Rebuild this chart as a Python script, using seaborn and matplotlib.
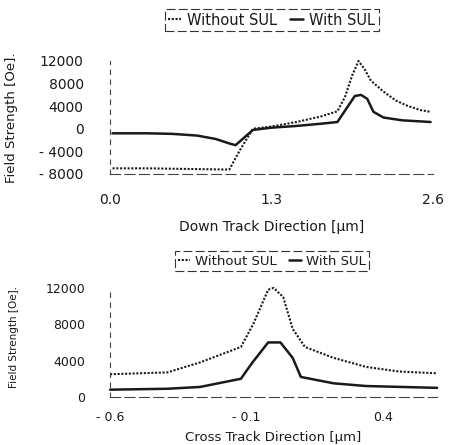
import numpy as np
import pandas as pd
import seaborn as sns
import matplotlib
matplotlib.use("Agg")
import matplotlib.pyplot as plt

# down track direction (top panel)
down_x_without = [0.02, 0.3, 0.6, 0.9, 0.96, 1.05, 1.15, 1.3, 1.5, 1.7, 1.83, 1.89, 1.95,
                  2.0, 2.05, 2.1, 2.2, 2.3, 2.4, 2.5, 2.58]
down_y_without = [-7000, -7000, -7100, -7200, -7200, -3600, 0, 400, 1200, 2200, 3100, 5600, 9500,
                  12000, 10500, 8500, 6600, 5000, 4000, 3300, 3000]
down_x_with = [0.02, 0.3, 0.5, 0.7, 0.85, 0.96, 1.01, 1.15, 1.3, 1.5, 1.7, 1.83, 1.9, 1.97,
               2.02, 2.07, 2.12, 2.2, 2.35, 2.58]
down_y_with = [-800, -800, -900, -1200, -1800, -2600, -2900, -200, 200, 500, 900, 1200, 3500, 5800,
               6000, 5300, 3000, 2000, 1500, 1200]

# cross track direction (bottom panel)
cross_x_without = [-0.6, -0.39, -0.27, -0.12, -0.075, -0.02, 0.0, 0.035, 0.07, 0.115, 0.22,
                   0.34, 0.46, 0.6]
cross_y_without = [2500, 2700, 3800, 5500, 8000, 11800, 12000, 11000, 7500, 5500, 4300,
                   3300, 2800, 2600]
cross_x_with = [-0.6, -0.39, -0.27, -0.12, -0.08, -0.02, 0.025, 0.07, 0.1, 0.22, 0.34, 0.6]
cross_y_with = [800, 900, 1100, 2000, 3700, 6000, 6000, 4300, 2200, 1500, 1200, 1000]

sns.set_theme(style="white")
plt.rcParams['font.family'] = ['DejaVu Sans']
ink = "#1a1a1a"

fig = plt.figure(figsize=(4.53, 4.45), dpi=100)
ax1 = fig.add_axes([0.243, 0.609, 0.713, 0.254])
ax2 = fig.add_axes([0.243, 0.108, 0.722, 0.245])


def draw(ax, xw, yw, xs, ys):
    df_wo = pd.DataFrame({"x": xw, "y": yw})
    df_w = pd.DataFrame({"x": xs, "y": ys})
    sns.lineplot(data=df_wo, x="x", y="y", ax=ax, color=ink, lw=1.5,
                 linestyle=(0, (1, 0.8)), label="Without SUL", clip_on=False)
    sns.lineplot(data=df_w, x="x", y="y", ax=ax, color=ink, lw=1.8,
                 label="With SUL", clip_on=False)


draw(ax1, down_x_without, down_y_without, down_x_with, down_y_with)
draw(ax2, cross_x_without, cross_y_without, cross_x_with, cross_y_with)

ax1.set_xlim(0, 2.6)
ax1.set_ylim(-8000, 12000)
ax1.set_xticks([0.0, 1.3, 2.6])
ax1.set_xticklabels(["0.0", "1.3", "2.6"])
ax1.set_yticks([12000, 8000, 4000, 0, -4000, -8000])
ax1.set_yticklabels(["12000", "8000", "4000", "0", "- 4000", "- 8000"])
ax1.set_xlabel("Down Track Direction [μm]", fontsize=10, color=ink, labelpad=9)
ax1.set_ylabel("Field Strength [Oe].", fontsize=9.5, color=ink)
ax1.yaxis.set_label_coords(-0.285, 0.5)
ax1.tick_params(axis="both", length=0, labelsize=10, colors=ink)
ax1.tick_params(axis="y", pad=19)
ax1.tick_params(axis="x", pad=14)

ax2.set_xlim(-0.6, 0.6)
ax2.set_ylim(0, 12000)
ax2.set_xticks([-0.6, -0.1, 0.4])
ax2.set_xticklabels(["- 0.6", "- 0.1", "0.4"])
ax2.set_yticks([0, 4000, 8000, 12000])
ax2.set_yticklabels(["0", "4000", "8000", "12000"])
ax2.set_xlabel("Cross Track Direction [μm]", fontsize=9.5, color=ink, labelpad=5)
ax2.set_ylabel("Field Strength [Oe].", fontsize=7.5, color=ink)
ax2.yaxis.set_label_coords(-0.28, 0.55)
ax2.tick_params(axis="both", length=0, labelsize=9, colors=ink)
ax2.tick_params(axis="y", pad=18)
ax2.tick_params(axis="x", pad=10)

for ax, leg_y, fs in [(ax1, 0.955, 10.5), (ax2, 0.413, 9.5)]:
    sns.despine(ax=ax)
    ax.spines["left"].set_linestyle((0, (4, 5)))
    ax.spines["bottom"].set_linestyle((0, (9, 4)))
    for s in ["left", "bottom"]:
        ax.spines[s].set_color("#444444")
        ax.spines[s].set_linewidth(0.8)
    leg = ax.legend(loc="center", bbox_to_anchor=(0.6, leg_y), bbox_transform=fig.transFigure,
                    ncol=2, fontsize=fs, handlelength=0.9, handletextpad=0.4,
                    columnspacing=0.9, borderpad=0.25, fancybox=False, framealpha=1)
    frame = leg.get_frame()
    frame.set_edgecolor("#333333")
    frame.set_linewidth(0.8)
    frame.set_linestyle((0, (8, 3)))
    for t in leg.get_texts():
        t.set_color(ink)

fig.savefig("out.png", dpi=100)
